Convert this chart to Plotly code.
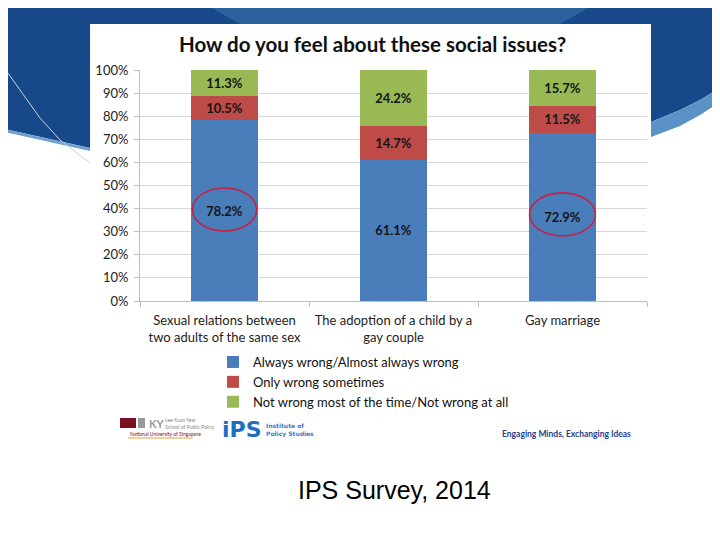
import plotly.graph_objects as go

categories = ["Sexual relations between<br>two adults of the same sex",
              "The adoption of a child by a<br>gay couple",
              "Gay marriage"]
always_wrong = [78.2, 61.1, 72.9]
sometimes_wrong = [10.5, 14.7, 11.5]
not_wrong = [11.3, 24.2, 15.7]
series_names = ["Always wrong/Almost always wrong",
                "Only wrong sometimes",
                "Not wrong most of the time/Not wrong at all"]
colors = ["#4a7ebb", "#be4b48", "#98b954"]
y_ticks = [0, 10, 20, 30, 40, 50, 60, 70, 80, 90, 100]

W, H = 720, 540
OFF = 8  # page body margin offset
PLOT_L, PLOT_R, PLOT_T, PLOT_B = 140, 647, 70, 301  # in screen coords
L = PLOT_L - OFF
T = PLOT_T - OFF
R = W - (PLOT_R - OFF)
B = H - (PLOT_B - OFF)
PW, PH = PLOT_R - PLOT_L, PLOT_B - PLOT_T

def px(x):
    return (x - PLOT_L) / PW

def py(y):
    return (PLOT_B - y) / PH

FONT = "Lato, 'Open Sans', sans-serif"

fig = go.Figure()
for vals, name, col in zip([always_wrong, sometimes_wrong, not_wrong], series_names, colors):
    fig.add_trace(go.Bar(
        x=categories, y=vals, name=name, marker=dict(color=col, line=dict(width=0)),
        text=[f"{v:.1f}%" for v in vals], textposition="inside", insidetextanchor="middle",
        textfont=dict(family=FONT, size=13, color="#151515", weight="bold"),
        textangle=0, hoverinfo="skip",
    ))

def path_px(points, close=True):
    s = "M " + " L ".join(f"{px(x):.5f},{py(y):.5f}" for x, y in points)
    return s + (" Z" if close else "")

shapes = []
# background blue banner
shapes.append(dict(type="path", xref="paper", yref="paper", layer="below",
                   path=path_px([(-10, -10), (740, -10), (740, 80), (720, 88), (700, 100), (680, 110), (651, 122),
                                 (90, 148), (0, 128), (-10, 126)]),
                   fillcolor="#17498a", line=dict(width=0)))
shapes.append(dict(type="path", xref="paper", yref="paper", layer="below",
                   path=path_px([(180, -10), (620, -10), (560, 24), (240, 24)]),
                   fillcolor="#2a609c", line=dict(width=0)))
# light band right
shapes.append(dict(type="path", xref="paper", yref="paper", layer="below",
                   path=path_px([(740, 80), (740, 95), (720, 102), (700, 115), (680, 126), (651, 137),
                                 (651, 122), (680, 110), (700, 100), (720, 88)]),
                   fillcolor="#5a92c6", line=dict(width=0)))
# light band left
shapes.append(dict(type="path", xref="paper", yref="paper", layer="below",
                   path=path_px([(-10, 126), (0, 128), (90, 148), (90, 151), (0, 131), (-10, 129)]),
                   fillcolor="#6fa0d2", line=dict(width=0)))
# thin swoosh line left
shapes.append(dict(type="path", xref="paper", yref="paper", layer="below",
                   path=path_px([(0, 62), (20, 90), (40, 118), (60, 140), (90, 163)], close=False),
                   line=dict(color="#c9d3df", width=1)))
# white panel
shapes.append(dict(type="rect", xref="paper", yref="paper", layer="below",
                   x0=px(90), x1=px(651), y0=py(560), y1=py(24),
                   fillcolor="white", line=dict(width=0)))
# ellipses
shapes.append(dict(type="circle", xref="x", yref="y", x0=-0.19, x1=0.19, y0=30.3, y1=48.9,
                   line=dict(color="#c5214b", width=1.6)))
shapes.append(dict(type="circle", xref="x", yref="y", x0=1.805, x1=2.195, y0=28.2, y1=46.8,
                   line=dict(color="#c5214b", width=1.6)))
# LKY logo blocks
shapes.append(dict(type="rect", xref="paper", yref="paper", x0=px(120), x1=px(136), y0=py(428), y1=py(418),
                   fillcolor="#7a1020", line=dict(width=0)))
shapes.append(dict(type="rect", xref="paper", yref="paper", x0=px(138), x1=px(145), y0=py(428), y1=py(418),
                   fillcolor="#9a9a9a", line=dict(width=0)))
shapes.append(dict(type="line", xref="paper", yref="paper", x0=px(128), x1=px(193), y0=py(438), y1=py(438),
                   line=dict(color="#e8a040", width=1)))

annotations = [
    dict(text="<b>How do you feel about these social issues?</b>", x=px(372), y=py(44),
         xref="paper", yref="paper", showarrow=False, xanchor="center", yanchor="middle",
         font=dict(family=FONT, size=20.5, color="#111")),
    dict(text="<b>KY</b>", x=px(147), y=py(423), xref="paper", yref="paper", showarrow=False,
         xanchor="left", yanchor="middle", font=dict(family=FONT, size=11, color="#9a9a9a")),
    dict(text="Lee Kuan Yew<br>School of Public Policy", x=px(163), y=py(423), xref="paper", yref="paper",
         showarrow=False, xanchor="left", yanchor="middle", align="left",
         font=dict(family=FONT, size=5, color="#888")),
    dict(text="National University of Singapore", x=px(128), y=py(434), xref="paper", yref="paper",
         showarrow=False, xanchor="left", yanchor="middle", font=dict(family=FONT, size=5, color="#7a1020")),
    dict(text="<b>iPS</b>", x=px(220), y=py(429), xref="paper", yref="paper", showarrow=False,
         xanchor="left", yanchor="middle", font=dict(family="'DejaVu Sans', sans-serif", size=22, color="#1f6fc0")),
    dict(text="<b>Institute of<br>Policy Studies</b>", x=px(264), y=py(430), xref="paper", yref="paper",
         showarrow=False, xanchor="left", yanchor="middle", align="left",
         font=dict(family="'DejaVu Sans', sans-serif", size=6, color="#3a7cc4")),
    dict(text="<b>Engaging Minds, Exchanging Ideas</b>", x=px(566), y=py(434), xref="paper", yref="paper",
         showarrow=False, xanchor="center", yanchor="middle",
         font=dict(family=FONT, size=8.5, color="#27408b")),
    dict(text="IPS Survey, 2014", x=px(394), y=py(490), xref="paper", yref="paper", showarrow=False,
         xanchor="center", yanchor="middle",
         font=dict(family="'Liberation Sans', Arial, sans-serif", size=25, color="#000")),
]

fig.update_layout(
    width=W, height=H, margin=dict(l=L, r=R, t=T, b=B, pad=0),
    barmode="stack", bargap=0.6,
    paper_bgcolor="white", plot_bgcolor="rgba(0,0,0,0)",
    font=dict(family=FONT, size=13, color="#222"),
    shapes=shapes, annotations=annotations,
    legend=dict(orientation="v", x=px(213), y=py(347), xanchor="left", yanchor="top",
                font=dict(family=FONT, size=13, color="#111"), bgcolor="rgba(0,0,0,0)",
                itemwidth=30, tracegroupgap=0, traceorder="normal"),
    xaxis=dict(showgrid=False, showline=True, linecolor="#bdbdbd", linewidth=1,
               ticks="outside", tickson="boundaries", ticklen=5, tickcolor="#bdbdbd",
               ticklabelstandoff=7,
               tickfont=dict(family=FONT, size=13, color="#222"), fixedrange=True),
    yaxis=dict(range=[0, 100], tickvals=y_ticks, ticktext=[f"{v}%" for v in y_ticks],
               showgrid=True, gridcolor="#d9d9d9", gridwidth=1, showline=True, linecolor="#bdbdbd",
               ticks="outside", ticklen=5, tickcolor="#bdbdbd", zeroline=False,
               ticklabelstandoff=3,
               tickfont=dict(family=FONT, size=13, color="#222"), fixedrange=True),
)

fig.write_html("out.html")
